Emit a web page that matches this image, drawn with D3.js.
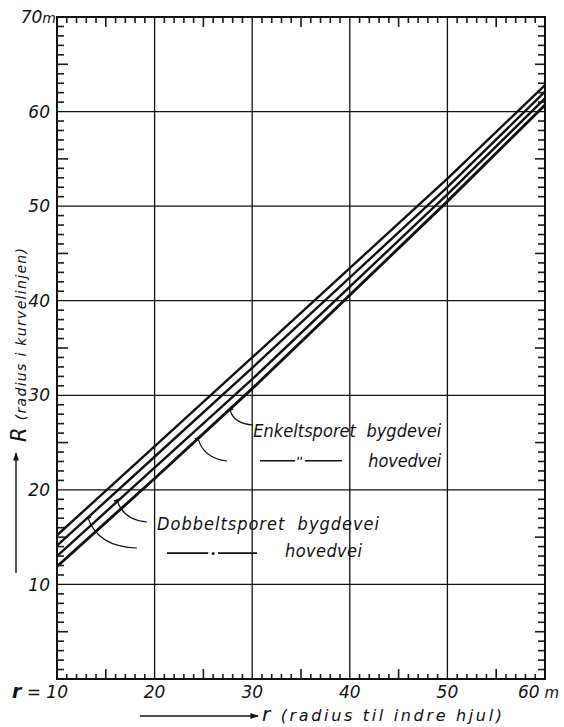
<!DOCTYPE html>
<html>
<head>
<meta charset="utf-8">
<script src="https://cdn.jsdelivr.net/npm/d3@7"></script>
<style>
  body { margin: 0; background: #fff; }
  text { font-family: "DejaVu Sans", sans-serif; font-style: italic; fill: #111; }
  .cond { font-family: "DejaVu Sans Condensed", "DejaVu Sans", sans-serif; }
</style>
</head>
<body>
<div id="chart"></div>
<script>
// r (radius til indre hjul) where the curves were read
var rValues = [10, 20, 30, 50, 60];

// R (radius i kurvelinjen), top curve first
var dobbeltHovedvei = [15.2, 24.6, 34.0, 52.9, 62.8];
var dobbeltBygdevei = [14.1, 23.5, 32.9, 52.0, 62.1];
var enkeltHovedvei  = [13.0, 22.35, 31.7, 51.25, 61.4];
var enkeltBygdevei  = [11.9, 21.2, 30.7, 50.5, 60.7];

var xTickLabels = ["20", "30", "40", "50"];
var yTickLabels = ["10", "20", "30", "40", "50", "60"];

var svgWidth = 564;
var svgHeight = 727;
var margin = { top: 17, right: 19, bottom: 48, left: 57 };
var plotLeft = margin.left, plotRight = svgWidth - margin.right;
var plotTop = margin.top, plotBottom = svgHeight - margin.bottom;

var svg = d3.select("#chart")
  .append("svg")
  .attr("width", svgWidth)
  .attr("height", svgHeight);

var x = d3.scaleLinear().domain([10, 60]).range([plotLeft, plotRight]);
var y = d3.scaleLinear().domain([0, 70]).range([plotBottom, plotTop]);

// grid
var xGrid = xTickLabels.map(Number);
var yGrid = yTickLabels.map(Number);

svg.append("g")
  .selectAll("line")
  .data(xGrid)
  .enter()
  .append("line")
  .attr("x1", d => x(d)).attr("x2", d => x(d))
  .attr("y1", plotTop).attr("y2", plotBottom)
  .attr("stroke", "#111").attr("stroke-width", 1.3);

svg.append("g")
  .selectAll("line")
  .data(yGrid)
  .enter()
  .append("line")
  .attr("x1", plotLeft).attr("x2", plotRight)
  .attr("y1", d => y(d)).attr("y2", d => y(d))
  .attr("stroke", "#111").attr("stroke-width", 1.3);

// frame
svg.append("rect")
  .attr("x", plotLeft).attr("y", plotTop)
  .attr("width", plotRight - plotLeft).attr("height", plotBottom - plotTop)
  .attr("fill", "none").attr("stroke", "#111").attr("stroke-width", 2);

// curves
var series = [dobbeltHovedvei, dobbeltBygdevei, enkeltHovedvei, enkeltBygdevei];
var lineGen = d3.line()
  .x((d, k) => x(rValues[k]))
  .y(d => y(d));

svg.append("g")
  .selectAll("path")
  .data(series)
  .enter()
  .append("path")
  .attr("d", d => lineGen(d))
  .attr("fill", "none")
  .attr("stroke", "#111")
  .attr("stroke-width", (d, k) => k === 3 ? 2.9 : 2.4);

// leader arcs (data coordinates: start, control, end)
var arcs = [
  [[30.08, 26.86], [28.14, 26.96], [27.73, 28.44]],
  [[27.42, 23.05], [24.96, 23.37], [24.45, 25.48]],
  [[19.22, 16.6], [16.76, 16.81], [16.15, 18.93]],
  [[18.2, 13.85], [14.2, 13.96], [13.18, 17.02]]
];

arcs.forEach(function(arc) {
  var p = d3.path();
  p.moveTo(x(arc[0][0]), y(arc[0][1]));
  p.quadraticCurveTo(x(arc[1][0]), y(arc[1][1]), x(arc[2][0]), y(arc[2][1]));
  svg.append("path")
    .attr("d", p.toString())
    .attr("fill", "none").attr("stroke", "#111").attr("stroke-width", 1.2);
  // small mark where the arc meets the curve
  svg.append("line")
    .attr("x1", x(arc[2][0]) - 3).attr("y1", y(arc[2][1]) + 1)
    .attr("x2", x(arc[2][0]) + 3).attr("y2", y(arc[2][1]) - 1)
    .attr("stroke", "#111").attr("stroke-width", 1.6);
});

// legend texts
function label(r, R, str, len) {
  svg.append("text")
    .attr("class", "cond")
    .attr("x", x(r)).attr("y", y(R))
    .attr("font-size", "18px")
    .attr("textLength", len)
    .attr("lengthAdjust", "spacing")
    .text(str);
}
label(30.1, 25.6, "Enkeltsporet\u00a0\u00a0bygdevei", 188);
label(41.9, 22.4, "hovedvei", 73);
label(20.25, 15.76, "Dobbeltsporet\u00a0\u00a0bygdevei", 222);
label(33.36, 12.9, "hovedvei", 77);

// legend line styles
[[30.8, 34.4], [35.4, 39.2]].forEach(function(s) {
  svg.append("line")
    .attr("x1", x(s[0])).attr("x2", x(s[1]))
    .attr("y1", y(23.08)).attr("y2", y(23.08))
    .attr("stroke", "#111").attr("stroke-width", 1.7);
});
[34.75, 35.05].forEach(function(v) {
  svg.append("line")
    .attr("x1", x(v)).attr("x2", x(v) - 0.5)
    .attr("y1", y(23.08) - 4).attr("y2", y(23.08) - 1)
    .attr("stroke", "#111").attr("stroke-width", 1.2);
});

[[21.27, 25.5], [26.5, 30.5]].forEach(function(s) {
  svg.append("line")
    .attr("x1", x(s[0])).attr("x2", x(s[1]))
    .attr("y1", y(13.32)).attr("y2", y(13.32))
    .attr("stroke", "#111").attr("stroke-width", 1.7);
});
svg.append("circle")
  .attr("cx", x(26.0)).attr("cy", y(13.32) + 0.5).attr("r", 1.5)
  .attr("fill", "#111");

// tick labels
svg.append("g")
  .selectAll("text")
  .data(yTickLabels)
  .enter()
  .append("text")
  .attr("x", plotLeft - 7)
  .attr("y", d => y(+d))
  .attr("dy", "0.36em")
  .attr("text-anchor", "end")
  .attr("font-size", "17px")
  .text(d => d);

svg.append("text")
  .attr("x", plotLeft - 1)
  .attr("y", y(70) + 6)
  .attr("text-anchor", "end")
  .attr("font-size", "17px")
  .html('70<tspan font-size="14px">m</tspan>');

svg.append("g")
  .selectAll("text")
  .data(xTickLabels)
  .enter()
  .append("text")
  .attr("x", d => x(+d))
  .attr("y", plotBottom + 19)
  .attr("text-anchor", "middle")
  .attr("font-size", "17px")
  .text(d => d);

svg.append("text")
  .attr("x", x(10) + 11)
  .attr("y", plotBottom + 19)
  .attr("text-anchor", "end")
  .attr("font-size", "17px")
  .html('<tspan font-weight="bold" font-size="19px">r</tspan> = 10');

svg.append("text")
  .attr("x", x(60) - 27)
  .attr("y", plotBottom + 19)
  .attr("font-size", "17px")
  .html('60<tspan font-size="15px"> m</tspan>');

// axis titles
svg.append("defs").append("marker")
  .attr("id", "arrow")
  .attr("viewBox", "0 0 10 10")
  .attr("refX", 9).attr("refY", 5)
  .attr("markerWidth", 6).attr("markerHeight", 6)
  .attr("orient", "auto")
  .append("path")
  .attr("d", "M0,1.5L10,5L0,8.5Z")
  .attr("fill", "#111");

svg.append("line")
  .attr("x1", 140).attr("y1", 716)
  .attr("x2", 258).attr("y2", 716)
  .attr("stroke", "#111").attr("stroke-width", 1.4)
  .attr("marker-end", "url(#arrow)");

svg.append("text")
  .attr("x", 262).attr("y", 721)
  .attr("font-size", "16px")
  .attr("textLength", 240)
  .attr("lengthAdjust", "spacing")
  .html('<tspan font-size="20px">r</tspan> (radius til indre hjul)');

svg.append("line")
  .attr("x1", 16).attr("y1", 573)
  .attr("x2", 16).attr("y2", 453)
  .attr("stroke", "#111").attr("stroke-width", 1.4)
  .attr("marker-end", "url(#arrow)");

svg.append("text")
  .attr("transform", "translate(26, 442) rotate(-90)")
  .attr("font-size", "14px")
  .attr("textLength", 194)
  .attr("lengthAdjust", "spacing")
  .html('<tspan font-size="21px">R</tspan> (radius i kurvelinjen)');

// inward ticks on all four sides, longer every 5, drawn as small filled bars
var xTicks = [];
for (var a = 11; a < 60; a++) if (a % 10 !== 0) xTicks.push(a);
var yTicks = [];
for (var b = 1; b < 70; b++) if (b % 10 !== 0) yTicks.push(b);

var tickBars = svg.append("g").attr("fill", "#1a1a1a");

tickBars.selectAll(".tick-b").data(xTicks).enter().append("rect")
  .attr("class", "tick-b")
  .attr("x", d => x(d) - 0.8).attr("width", 1.6)
  .attr("y", d => plotBottom - (d % 5 === 0 ? 10 : 5))
  .attr("height", d => (d % 5 === 0 ? 10 : 5));

tickBars.selectAll(".tick-t").data(xTicks).enter().append("rect")
  .attr("class", "tick-t")
  .attr("x", d => x(d) - 0.8).attr("width", 1.6)
  .attr("y", plotTop)
  .attr("height", d => (d % 5 === 0 ? 10 : 6));

tickBars.selectAll(".tick-l").data(yTicks).enter().append("rect")
  .attr("class", "tick-l")
  .attr("x", plotLeft)
  .attr("width", d => (d % 5 === 0 ? 11 : 7))
  .attr("y", d => y(d) - 0.8).attr("height", 1.6);

tickBars.selectAll(".tick-r").data(yTicks).enter().append("rect")
  .attr("class", "tick-r")
  .attr("x", d => plotRight - (d % 5 === 0 ? 10 : 7))
  .attr("width", d => (d % 5 === 0 ? 10 : 7))
  .attr("y", d => y(d) - 0.8).attr("height", 1.6);
</script>
</body>
</html>
